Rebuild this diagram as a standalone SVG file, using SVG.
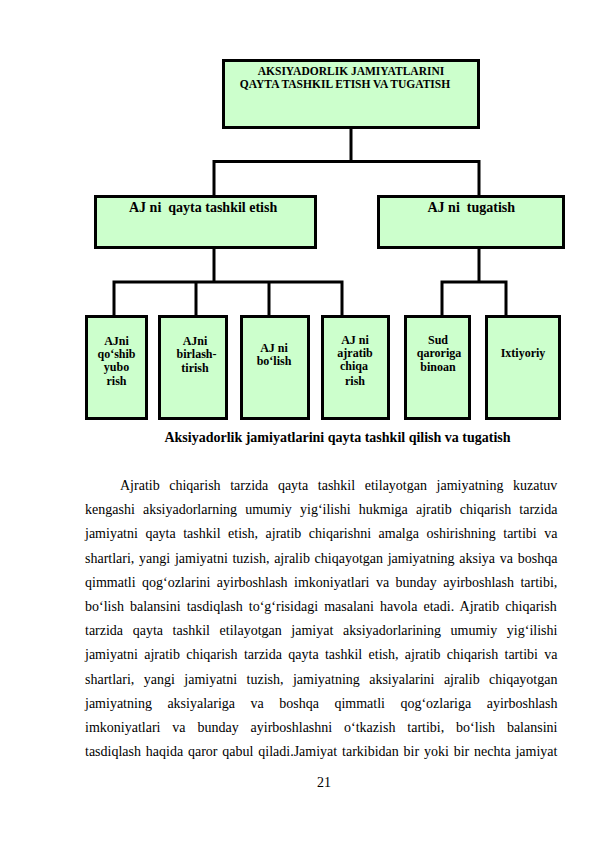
<svg xmlns="http://www.w3.org/2000/svg" width="595" height="842" viewBox="0 0 595 842">
<style>
.box{fill:#CCFFCC;stroke:#000;stroke-width:3}
.con{fill:none;stroke:#000;stroke-width:3;stroke-linejoin:miter;stroke-linecap:butt}
.t{font-family:"Liberation Serif","Times New Roman",serif;font-weight:bold;fill:#000}
.tt{font-size:11.5px;text-anchor:middle}
.tm{font-size:14px}
.tb{font-size:12px;text-anchor:middle}
.body{font-family:"Liberation Serif","Times New Roman",serif;font-size:14px;fill:#000}
</style>
<rect width="595" height="842" fill="#fff"/>
<g id="connectors">
<path class="con" d="M351,128 V161.5"/>
<path class="con" d="M214,196 V161.5 H479 V196"/>
<path class="con" d="M214,248 V282"/>
<path class="con" d="M114,316 V282 H342 V316"/>
<path class="con" d="M196,282 V316"/>
<path class="con" d="M269,282 V316"/>
<path class="con" d="M479,248 V282"/>
<path class="con" d="M442,316 V282 H506 V316"/>
</g>
<g id="root">
<rect class="box" x="223.5" y="60.5" width="255" height="67"/>
<text class="t tt" x="351" y="74.5">AKSIYADORLIK JAMIYATLARINI</text>
<text class="t tt" x="345" y="88">QAYTA TASHKIL ETISH VA TUGATISH</text>
</g>
<g id="reorg">
<rect class="box" x="95.5" y="196.5" width="220" height="51"/>
<text class="t tm" x="129" y="212" xml:space="preserve">AJ ni  qayta tashkil etish</text>
</g>
<g id="liquidation">
<rect class="box" x="378.5" y="196.5" width="185" height="51"/>
<text class="t tm" x="427.5" y="212" xml:space="preserve">AJ ni  tugatish</text>
</g>
<g id="merge">
<rect class="box" x="86.5" y="316.5" width="60" height="102"/>
<text class="t tb" x="116.5"><tspan x="116.5" y="345">AJni</tspan><tspan x="116.5" y="358">qo‘shib</tspan><tspan x="116.5" y="371">yubo</tspan><tspan x="116.5" y="385">rish</tspan></text>
</g>
<g id="join">
<rect class="box" x="159.5" y="316.5" width="67" height="102"/>
<text class="t tb" x="196"><tspan x="195" y="345">AJni</tspan><tspan x="196.5" y="358">birlash-</tspan><tspan x="195" y="372">tirish</tspan></text>
</g>
<g id="split">
<rect class="box" x="241.5" y="316.5" width="67" height="102"/>
<text class="t tb" x="274"><tspan x="274" y="352">AJ ni</tspan><tspan x="274" y="365">bo‘lish</tspan></text>
</g>
<g id="spinoff">
<rect class="box" x="322.5" y="316.5" width="66" height="102"/>
<text class="t tb" x="355"><tspan x="355" y="344">AJ ni</tspan><tspan x="355" y="357">ajratib</tspan><tspan x="354" y="370">chiqa</tspan><tspan x="355" y="385">rish</tspan></text>
</g>
<g id="court">
<rect class="box" x="405.5" y="316.5" width="64" height="102"/>
<text class="t tb" x="439"><tspan x="438" y="344">Sud</tspan><tspan x="439" y="357">qaroriga</tspan><tspan x="438" y="371">binoan</tspan></text>
</g>
<g id="voluntary">
<rect class="box" x="486.5" y="316.5" width="73" height="102"/>
<text class="t tb" x="523" y="357">Ixtiyoriy</text>
</g>
<text class="t" x="337.5" y="442" font-size="14" text-anchor="middle">Aksiyadorlik jamiyatlarini qayta tashkil qilish va tugatish</text>
<g id="body">
<text class="body" x="120" y="490" word-spacing="6.11">Ajratib chiqarish tarzida qayta tashkil etilayotgan jamiyatning kuzatuv</text>
<text class="body" x="85" y="514.2" word-spacing="4.67">kengashi aksiyadorlarning umumiy yig‘ilishi hukmiga ajratib chiqarish tarzida</text>
<text class="body" x="85" y="538.4" word-spacing="4.02">jamiyatni qayta tashkil etish, ajratib chiqarishni amalga oshirishning tartibi va</text>
<text class="body" x="85" y="562.6" word-spacing="1.21">shartlari, yangi jamiyatni tuzish, ajralib chiqayotgan jamiyatning aksiya va boshqa</text>
<text class="body" x="85" y="586.8" word-spacing="2.94">qimmatli qog‘ozlarini ayirboshlash imkoniyatlari va bunday ayirboshlash tartibi,</text>
<text class="body" x="85" y="611" word-spacing="2.63">bo‘lish balansini tasdiqlash to‘g‘risidagi masalani havola etadi. Ajratib chiqarish</text>
<text class="body" x="85" y="635.2" word-spacing="6.11">tarzida qayta tashkil etilayotgan jamiyat aksiyadorlarining umumiy yig‘ilishi</text>
<text class="body" x="85" y="659.4" word-spacing="2.81">jamiyatni ajratib chiqarish tarzida qayta tashkil etish, ajratib chiqarish tartibi va</text>
<text class="body" x="85" y="683.6" word-spacing="5.9">shartlari, yangi jamiyatni tuzish, jamiyatning aksiyalarini ajralib chiqayotgan</text>
<text class="body" x="85" y="707.8" word-spacing="12">jamiyatning aksiyalariga va boshqa qimmatli qog‘ozlariga ayirboshlash</text>
<text class="body" x="85" y="732" word-spacing="8.39">imkoniyatlari va bunday ayirboshlashni o‘tkazish tartibi, bo‘lish balansini</text>
<text class="body" x="85" y="756.2" word-spacing="1.33">tasdiqlash haqida qaror qabul qiladi.Jamiyat tarkibidan bir yoki bir nechta jamiyat</text>
</g>
<text class="body" x="324" y="787" text-anchor="middle">21</text>
</svg>
